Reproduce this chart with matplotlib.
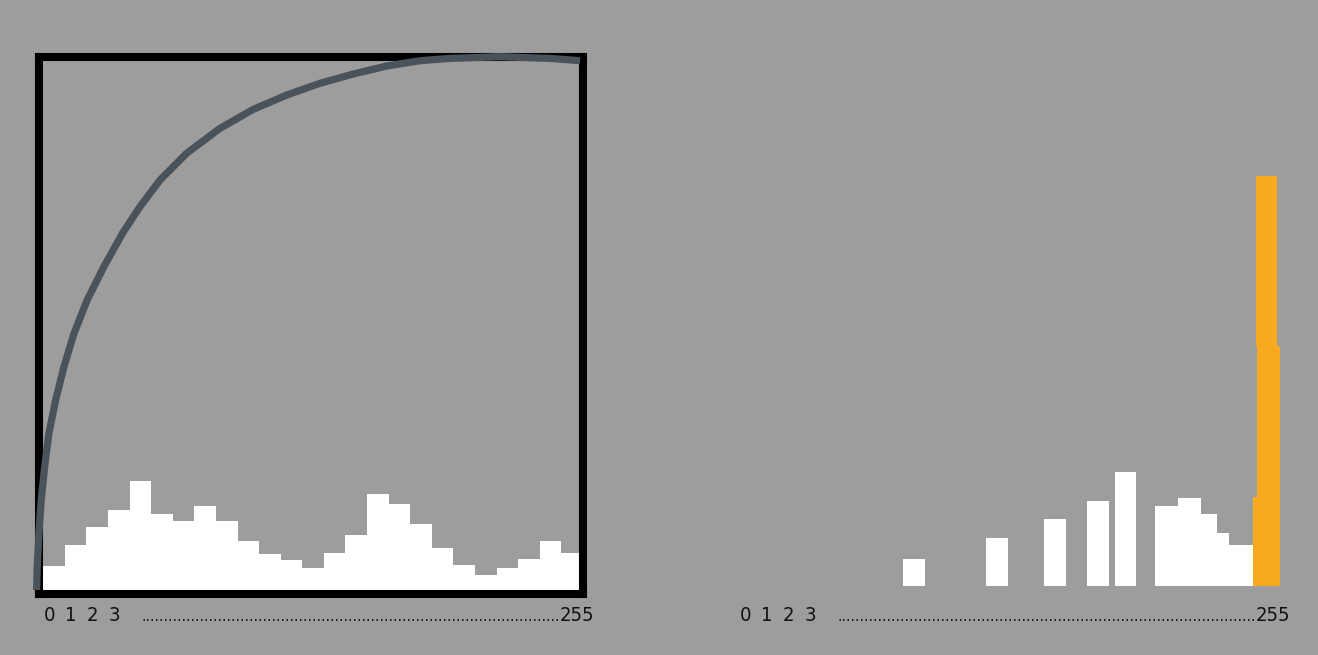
import matplotlib.pyplot as plt
import numpy as np

# DADOS

# HISTOGRAMA ORIGINAL - 25 FAIXAS DE 0 A 255 (CONTAGEM RELATIVA)
hist_original = [28, 49, 67, 84, 113, 80, 73, 88, 73, 53, 40, 34, 26,
                 41, 59, 100, 90, 70, 46, 29, 19, 26, 35, 53, 41]

# CURVA DE TRANSFERENCIA (NIVEL DE ENTRADA -> NIVEL DE SAIDA)
curva_entrada = [-3.1, -2.8, -2.0, -0.9, 0.7, 2.7, 5.9, 9.8, 14.6, 20.8, 28.7, 37.7,
                 45.7, 55.2, 67.8, 83.5, 99.2, 115.0, 130.8, 146.5, 162.3, 178.0,
                 192.2, 215.8, 239.4, 253.6]
curva_saida = [1.9, 13.0, 28.8, 44.6, 60.4, 76.2, 92.0, 107.8, 123.7, 139.5, 155.3, 171.5,
               183.7, 196.4, 209.1, 220.9, 229.9, 236.7, 242.3, 246.7, 250.5, 253.0,
               254.1, 254.9, 254.1, 253.0]

# HISTOGRAMA DE SAIDA (BARRAS BRANCAS): NIVEL INICIAL, NIVEL FINAL, CONTAGEM
saida_inicio = [77.5, 116.6, 144.1, 164.4, 177.7, 196.4, 207.1, 218.0, 225.5, 231.5]
saida_fim = [87.8, 127.0, 154.2, 174.8, 187.6, 207.1, 218.0, 225.5, 231.5, 243.5]
saida_contagem = [27, 48, 67, 85, 114, 80, 88, 72, 53, 41]

# PILHA ACUMULADA NO NIVEL 255 (LARANJA)
pilha_inicio = [242.9, 244.4, 244.0]
pilha_fim = [255.5, 255.5, 253.9]
pilha_contagem = [89, 151, 170]

# ROTULOS DO EIXO
rotulos = ["0", "1", "2", "3"]
rotulo_final = "255"
n_pontos = 93

# CORES
fundo = "#9d9d9d"
cor_curva = "#4b535a"
cor_laranja = "#f8aa1e"
cor_texto = "#111111"

plt.rcParams['font.family'] = ['DejaVu Sans']

fig = plt.figure(figsize=(13.18, 6.55), dpi=100)
fig.patch.set_facecolor(fundo)

bordas = np.linspace(0, 255, len(hist_original) + 1)
largura = bordas[1] - bordas[0]
escala_y = 537.5  # ALTURA DO EIXO EM UNIDADES DE CONTAGEM


def rotulos_eixo(ax, y):
    # NUMEROS 0 1 2 3 ALINHADOS COM AS FAIXAS E A LINHA DE PONTOS ATE 255
    trans = ax.get_xaxis_transform()
    for i, r in enumerate(rotulos):
        ax.text(bordas[i] + 0.2, y, r, transform=trans, ha="left", va="baseline",
                fontsize=14.5, fontstretch="condensed", color=cor_texto, clip_on=False)
    ax.text(46.5, y, "." * n_pontos, transform=trans, ha="left", va="baseline",
            fontsize=10.2, color=cor_texto, clip_on=False)
    ax.text(260.2, y, rotulo_final, transform=trans, ha="right", va="baseline",
            fontsize=14.5, fontstretch="condensed", color=cor_texto, clip_on=False)


# PAINEL ESQUERDO: CURVA + HISTOGRAMA ORIGINAL

ax1 = fig.add_axes([38.5 / 1318, 61 / 655, 544.5 / 1318, 537.5 / 655])
ax1.set_facecolor(fundo)
ax1.bar(bordas[:-1], hist_original, width=largura, align="edge",
        color="white", linewidth=0)
ax1.set_xlim(-2.2, 255)
ax1.set_ylim(0, escala_y)
ax1.set_xticks([])
ax1.set_yticks([])
for s in ax1.spines.values():
    s.set_linewidth(5.8)
    s.set_color("black")
rotulos_eixo(ax1, -27 / 537.5)

# CURVA POR CIMA DA MOLDURA
ax_curva = ax1.twinx()
ax_curva.set_ylim(0, 255)
ax_curva.set_yticks([])
for s in ax_curva.spines.values():
    s.set_visible(False)
ax_curva.plot(curva_entrada, curva_saida, color=cor_curva, linewidth=5.2,
              solid_capstyle="butt", solid_joinstyle="round", clip_on=False)

# PAINEL DIREITO: HISTOGRAMA EQUALIZADO

ax2 = fig.add_axes([734.5 / 1318, 69 / 655, 544.5 / 1318, 537.5 / 655])
ax2.patch.set_alpha(0)
for ini, fim, c in zip(saida_inicio, saida_fim, saida_contagem):
    ax2.bar(ini, c, width=fim - ini, align="edge", color="white", linewidth=0)

base = 0
for ini, fim, c in zip(pilha_inicio, pilha_fim, pilha_contagem):
    ax2.bar(ini, c, width=fim - ini, bottom=base, align="edge",
            color=cor_laranja, linewidth=0, clip_on=False)
    base += c

ax2.set_xlim(-2.2, 255)
ax2.set_ylim(0, escala_y)
ax2.set_xticks([])
ax2.set_yticks([])
for s in ax2.spines.values():
    s.set_visible(False)
rotulos_eixo(ax2, -35 / 537.5)

plt.savefig("out.png", dpi=100, facecolor=fundo)
